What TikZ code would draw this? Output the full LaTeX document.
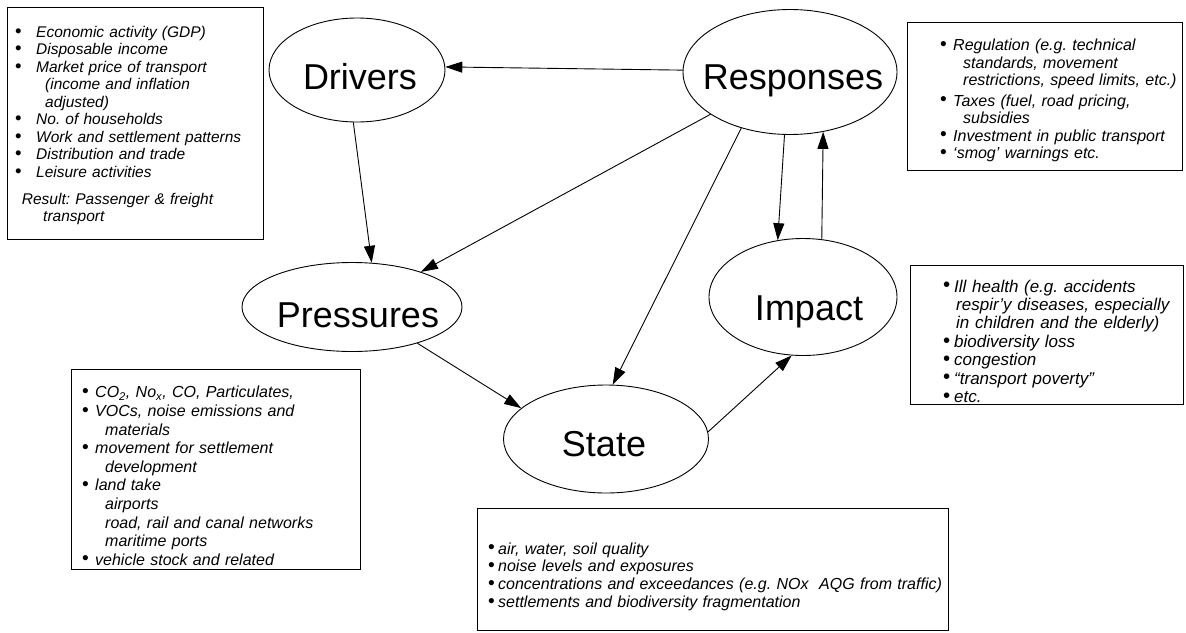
\documentclass[tikz,border=0pt]{standalone}
\usepackage{fontspec}
\usepackage{graphicx}
\setmainfont{Liberation Sans}
\usetikzlibrary{shapes.geometric,arrows.meta}
\newlength{\bw}\newlength{\hng}\newlength{\sh}
\newcommand{\bitem}[1]{\par\hangindent=\hng\hangafter=1\noindent\rule{0pt}{\sh}\makebox[\bw][l]{\upshape\raisebox{0.3pt}{\scalebox{1.2}{\textbullet}}}#1}
\begin{document}
\frenchspacing
\begin{tikzpicture}[x=1pt,y=-1pt,
  bubble/.style={draw, ellipse, line width=0.9pt, inner sep=0pt},
  bigtext/.style={anchor=base, inner sep=0pt, font=\fontsize{36}{40}\selectfont},
  flow/.style={-{Triangle[length=17pt,width=11pt]}, line width=0.9pt},
  infobox/.style={draw, line width=1pt, anchor=north west, inner sep=0pt},
  infotext/.style={anchor=north west, inner sep=0pt, align=left, text width=#1}]
\useasboundingbox (0,0) rectangle (1186,632);

% ellipses
\node[bubble, minimum width=176pt, minimum height=104pt] (drivers) at (357,70) {};
\node[bubble, minimum width=214pt, minimum height=125pt] (responses) at (790,72) {};
\node[bubble, minimum width=220pt, minimum height=89pt] (pressures) at (352,307) {};
\node[bubble, minimum width=188pt, minimum height=117pt] (impact) at (803,297) {};
\node[bubble, minimum width=205pt, minimum height=108pt] (state) at (606,439) {};

\node[bigtext] (driverst) at (360,89) {Drivers};
\node[bigtext] (responsest) at (793,89) {Responses};
\node[bigtext] (pressurest) at (358,327) {Pressures};
\node[bigtext] (impactt) at (809,320) {Impact};
\node[bigtext] (statet) at (604,456) {State};

% connectors
\draw[flow] (responses.179) -- (drivers.2);
\draw[flow] (drivers.-94) -- (pressures.66.5);
\draw[flow] (responses.208.3) -- (pressures.27);
\draw[flow] (responses.229.6) -- (state.83.7);
\draw[flow] (responses.265.3) -- (impact.114.3);
\draw[flow] (impact.72.6) -- (responses.-61.8);
\draw[flow] (pressures.-29.8) -- (state.160.9);
\draw[flow] (state.4.3) -- (impact.259);

% Drivers box
\node[infobox, minimum width=256pt, minimum height=232pt] (dbox) at (7,7) {};
\node[infotext=245pt, font=\fontsize{15.5}{17.5}\selectfont\itshape] (dtext) at (15,19.7) {%
\setlength{\bw}{21pt}\setlength{\hng}{30pt}\setlength{\sh}{12pt}%
\bitem{Economic activity (GDP)}
\bitem{Disposable income}
\bitem{Market price of transport\newline (income and inflation\newline adjusted)}
\bitem{No. of households}
\bitem{Work and settlement patterns}
\bitem{Distribution and trade}
\bitem{Leisure activities}
\par\vspace{9.3pt}\hangindent=28pt\hangafter=1\noindent\hspace{6.7pt}Result: Passenger \& freight\newline transport\par};

% Responses box
\node[infobox, minimum width=275pt, minimum height=148pt] (rbox) at (907,22) {};
\node[infotext=240pt, font=\fontsize{16}{17.5}\selectfont\itshape] (rtext) at (940,33) {%
\setlength{\bw}{13pt}\setlength{\hng}{23pt}\setlength{\sh}{12pt}%
\bitem{Regulation (e.g. technical\newline standards, movement\newline restrictions, speed limits, etc.)}
\par\vspace{3pt}
\bitem{Taxes (fuel, road pricing,\newline subsidies}
\bitem{Investment in public transport}
\bitem{‘smog’ warnings etc.}\par};

% Impact box
\node[infobox, minimum width=273pt, minimum height=139pt] (ibox) at (910,265) {};
\node[infotext=245pt, font=\fontsize{17}{18.4}\selectfont\itshape] (itext) at (943,273.5) {%
\setlength{\bw}{11pt}\setlength{\hng}{13pt}\setlength{\sh}{12.5pt}%
\bitem{Ill health (e.g. accidents\newline respir’y diseases, especially\newline in children and the elderly)}
\bitem{biodiversity loss}
\bitem{congestion}
\bitem{“transport poverty”}
\bitem{etc.}\par};

% Pressures box
\node[infobox, minimum width=289pt, minimum height=200pt] (pbox) at (71,369) {};
\node[infotext=270pt, font=\fontsize{16}{18.6}\selectfont\itshape] (ptext) at (82,379) {%
\setlength{\bw}{13pt}\setlength{\hng}{23pt}\setlength{\sh}{12pt}%
\bitem{CO\textsubscript{2}, No\textsubscript{x}, CO, Particulates,}
\bitem{VOCs, noise emissions and\newline materials}
\bitem{movement for settlement\newline development}
\bitem{land take\newline airports\newline road, rail and canal networks\newline maritime ports}
\bitem{vehicle stock and related}\par};

% State box
\node[infobox, minimum width=471pt, minimum height=122pt] (sbox) at (477,508) {};
\node[infotext=455pt, font=\fontsize{16}{17.8}\selectfont\itshape] (stext) at (488,536) {%
\setlength{\bw}{10pt}\setlength{\hng}{10pt}\setlength{\sh}{12pt}%
\bitem{air, water, soil quality}
\bitem{noise levels and exposures}
\bitem{concentrations and exceedances (e.g. NOx\ \ AQG from traffic)}
\bitem{settlements and biodiversity fragmentation}\par};
\end{tikzpicture}
\end{document}
